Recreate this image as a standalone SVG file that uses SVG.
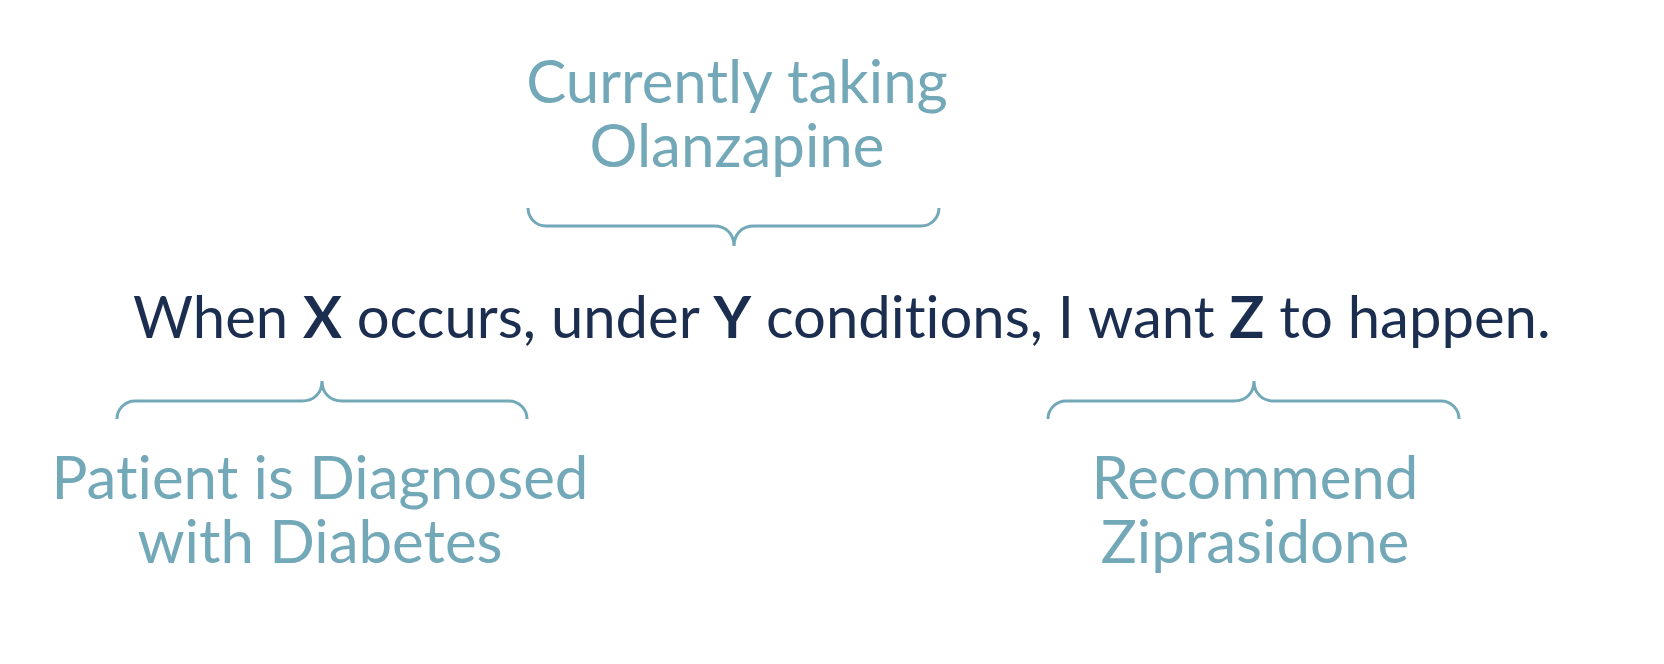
<svg xmlns="http://www.w3.org/2000/svg" width="1664" height="664" viewBox="0 0 1664 664">
<style>
text{font-variant-ligatures:none;font-feature-settings:"liga" 0,"clig" 0}
.main{font-family:Lato,"Liberation Sans",sans-serif;font-size:58px;fill:#1b2e4f}
.b{font-weight:bold}
.lbl{font-family:Lato,"Liberation Sans",sans-serif;font-size:60px;fill:#72a8b7;text-anchor:middle}
.brace{fill:none;stroke:#72a8b7;stroke-width:3;stroke-linecap:butt}
</style>
<rect width="1664" height="664" fill="#ffffff"/>
<g id="statement">
<text class="main" x="133" y="338">When <tspan class="b">X</tspan> occurs, under <tspan class="b">Y</tspan> conditions, I want <tspan class="b">Z</tspan> to happen.</text>
</g>
<g id="label-y">
<text class="lbl" x="737" y="103">Currently taking</text>
<text class="lbl" x="737" y="167">Olanzapine</text>
</g>
<g id="label-x">
<text class="lbl" x="320" y="499">Patient is Diagnosed</text>
<text class="lbl" x="320" y="563">with Diabetes</text>
</g>
<g id="label-z">
<text class="lbl" x="1255" y="499">Recommend</text>
<text class="lbl" x="1255" y="563">Ziprasidone</text>
</g>
<g id="connectors">
<path class="brace" d="M528,208 A18,18 0 0 0 546,226 L714,226 C726,226 734,234 734,246 C734,234 742,226 754,226 L921,226 A18,18 0 0 0 939,208"/>
<path class="brace" d="M117,419 A18,18 0 0 1 135,401 L302,401 C314,401 322,393 322,381 C322,393 330,401 342,401 L509,401 A18,18 0 0 1 527,419"/>
<path class="brace" d="M1048,419 A18,18 0 0 1 1066,401 L1234,401 C1246,401 1254,393 1254,381 C1254,393 1262,401 1274,401 L1441,401 A18,18 0 0 1 1459,419"/>
</g>
</svg>
